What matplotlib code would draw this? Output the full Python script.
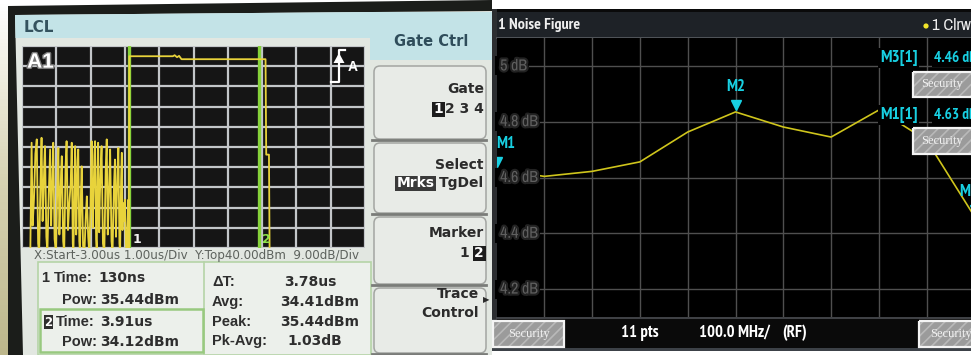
import matplotlib
matplotlib.use("Agg")
import matplotlib.pyplot as plt
import numpy as np
from matplotlib import font_manager
from matplotlib.font_manager import FontProperties
from matplotlib.patches import Rectangle, FancyBboxPatch, Polygon, Circle
from matplotlib.transforms import blended_transform_factory, offset_copy
import matplotlib.patheffects as pe

# ---------------- LCL: gated power-vs-time trace ----------------
lcl_x_start_us = -3.0
lcl_x_div_us = 1.0
lcl_y_top_dbm = 40.0
lcl_y_div_db = 9.0

lcl_time_us = [
    -3.00, -2.76, -2.72, -2.69, -2.65, -2.61, -2.57, -2.53, -2.50, -2.46,
    -2.43, -2.40, -2.38, -2.35, -2.33, -2.29, -2.26, -2.22, -2.18, -2.15,
    -2.13, -2.11, -2.09, -2.05, -2.01, -1.97, -1.94, -1.91, -1.89, -1.86,
    -1.84, -1.80, -1.77, -1.73, -1.70, -1.66, -1.62, -1.58, -1.55, -1.52,
    -1.50, -1.47, -1.45, -1.42, -1.40, -1.38, -1.36, -1.33, -1.31, -1.28,
    -1.26, -1.22, -1.18, -1.14, -1.11, -1.07, -1.04, -1.00, -0.97, -0.94,
    -0.92, -0.89, -0.87, -0.84, -0.82, -0.80, -0.78, -0.75, -0.73, -0.70,
    -0.68, -0.64, -0.60, -0.56, -0.53, -0.50, -0.48, -0.45, -0.43, -0.39,
    -0.36, -0.32, -0.29, -0.26, -0.24, -0.21, -0.19, -0.16, -0.14, -0.11,
    -0.09, -0.07, -0.05, -0.02, 0.00, 0.03, 0.05, 0.08, 0.10, 0.11,
    0.12, 0.13, 1.40, 1.45, 1.52, 1.58, 1.65, 4.10, 4.12, 4.20,
    4.22, 7.00,
]
lcl_power_dbm = [
    -55, -55, -3.1, -40, -28, -8.0, -1.6, -48, -52, -20,
    -0.9, -38, -30, -12, -4.6, -45, -52, -26, -6.1, -40,
    -27, -18, -3.1, -46, -52, -22, -5.4, -44, -34, -16,
    -9.1, -47, -52, -14, -2.4, -42, -30, -21, -3.1, -48,
    -52, -19, -4.6, -44, -28, -11, -6.1, -47, -52, -24,
    -13.6, -49, -52, -36, -27, -45, -52, -31, -2.4, -41,
    -30, -9.0, -2.4, -46, -52, -20, -3.1, -43, -27, -12,
    -4.6, -48, -52, -15, -1.6, -44, -34, -17, -6.1, -47,
    -52, -23, -10.6, -45, -30, -13, -5.4, -48, -52, -19,
    -7.6, -42, -30, -38, -28.5, -48, -52, -40, -28.5, -52,
    -12, 35.44, 35.44, 35.9, 35.0, 35.6, 34.12, 34.12, -8.4, -8.4,
    -55, -55,
]
lcl_marker_time_us = [0.13, 3.91]
lcl_marker_names = ["1", "2"]

# marker readout table
lcl_marker_time_txt = ["130ns", "3.91us"]
lcl_marker_pow_txt = ["35.44dBm", "34.12dBm"]
lcl_stat_names = ["\u0394T:", "Avg:", "Peak:", "Pk-Avg:"]
lcl_stat_values = ["3.78us", "34.41dBm", "35.44dBm", "1.03dB"]

# softkey menu
softkey_titles = ["Gate", "Select", "Marker", "Trace"]

# ---------------- Noise figure sweep ----------------
nf_freq_mhz = [0, 100, 200, 300, 400, 500, 600, 700, 800, 900, 1000]
nf_db = [4.63, 4.604, 4.622, 4.656, 4.763, 4.835, 4.781, 4.745, 4.842, 4.733, 4.46]
nf_marker_names = ["M1", "M2", "M3"]
nf_marker_index = [0, 5, 10]
nf_ytick_db = [4.2, 4.4, 4.6, 4.8, 5.0]
nf_ylim = (4.1, 5.1)

W, H, DPI = 971, 355, 100


def pick(cands):
    names = {f.name for f in font_manager.fontManager.ttflist}
    for c in cands:
        if c in names:
            return c
    return "DejaVu Sans"


def _weight(f):
    w = f.weight
    if isinstance(w, (int, float)):
        return int(w)
    w = str(w).lower()
    return 700 if "bold" in w else 400


def _is_condensed(f):
    nm = f.name.lower()
    st = f.stretch
    if "narrow" in nm or "condensed" in nm:
        return "semi" not in nm and "extra" not in nm
    if isinstance(st, str):
        return st == "condensed"
    if isinstance(st, (int, float)):
        return 250 <= st <= 350
    return False


def find_narrow():
    ranked = []
    for f in font_manager.fontManager.ttflist:
        if f.style != "normal" or not _is_condensed(f):
            continue
        nm = f.name.lower()
        if "narrow" in nm:
            r = 0
        elif "roboto" in nm:
            r = 1
        elif "noto sans" in nm:
            r = 2
        else:
            r = 3
        ranked.append((r, f))
    ranked.sort(key=lambda p: p[0])
    reg = bold = None
    for r, f in ranked:
        w = _weight(f)
        if bold is None and 600 <= w <= 800:
            bold = f.fname
        if reg is None and 350 <= w <= 500:
            reg = f.fname
    return reg, bold


NARROW_REG, NARROW_BOLD = find_narrow()
FALLBACK = pick(["Liberation Sans", "DejaVu Sans"])


def nfp(size, bold=False):
    path = NARROW_BOLD if bold else NARROW_REG
    if path is None:
        path = NARROW_REG or NARROW_BOLD
    if path is not None:
        return FontProperties(fname=path, size=size)
    return FontProperties(family=FALLBACK, size=size * 0.88, weight="bold" if bold else "normal")


SERIF = pick(["Liberation Serif", "DejaVu Serif"])
LCD = "DejaVu Sans"
ARIAL = pick(["Liberation Sans", "DejaVu Sans"])

fig = plt.figure(figsize=(W / DPI, H / DPI), dpi=DPI, facecolor="white")
renderer = fig.canvas.get_renderer()


def px_axes(x0, y0, x1, y1, label):
    return fig.add_axes([x0 / W, 1 - y1 / H, (x1 - x0) / W, (y1 - y0) / H], label=label)


def canvas(label):
    ax = fig.add_axes([0, 0, 1, 1], label=label)
    ax.set_xlim(0, W)
    ax.set_ylim(H, 0)
    ax.axis("off")
    ax.patch.set_alpha(0)
    return ax


bg = canvas("bg")

# ---- left instrument: bezel and panel ----
grad = np.linspace(0, 1, 100)[:, None]
bg.imshow(grad, extent=(0, 8.5, H, 0), cmap=matplotlib.colors.LinearSegmentedColormap.from_list(
    "bez", ["#ffffff", "#d8d4b4", "#bdb78c"]), aspect="auto", zorder=0)
bg.add_patch(Polygon([(8, 6), (492, 0), (492, 355), (8, 355)], closed=True, fc="#1b1d1a", ec="none", zorder=1))
bg.add_patch(Polygon([(15, 15), (492, 11), (492, 355), (23, 355)], closed=True, fc="#e2e7e1", ec="none", zorder=2))
bg.add_patch(Polygon([(15, 15), (370, 12), (370, 38), (15.5, 38)], closed=True, fc="#c3e3e7", ec="none", zorder=3))
bg.add_patch(Rectangle((370, 11.5), 122, 48.5, fc="#c3e3e7", ec="none", zorder=3))
bg.text(24, 28, "LCL", ha="left", va="center", fontsize=11, weight="bold", color="#34525e", family=LCD, zorder=4)
bg.text(431, 42, "Gate Ctrl", ha="center", va="center", fontsize=10.5, weight="bold", color="#2f4d5b", family=LCD, zorder=4)

# softkeys
key_boxes = [(66, 139), (143, 213), (217, 284), (288, 353)]
for (y0, y1) in key_boxes:
    bg.add_patch(FancyBboxPatch((374, y0), 112, y1 - y0, boxstyle="round,pad=0,rounding_size=6",
                                fc="#e8ebe7", ec="#a3a5a2", lw=1.1, zorder=3))
    bg.plot([372, 486], [y1 + 0.8, y1 + 0.8], color="#7a7c79", lw=2.0, zorder=4)

kw_key = dict(ha="right", va="center", fontsize=10, weight="bold", color="#2b2b2b", family=LCD, zorder=6)
bg.text(484, 89, softkey_titles[0], **kw_key)
bg.text(484, 165, softkey_titles[1], **kw_key)
bg.text(484, 233, softkey_titles[2], **kw_key)
bg.text(479, 294, softkey_titles[3], **kw_key)
bg.text(479, 313, "Control", **kw_key)
bg.text(486, 300, "\u25B6", ha="center", va="center", fontsize=6, color="#2b2b2b", zorder=6)


def inv_chip(x_right, y, s, fc, size=10):
    t = bg.text(x_right, y, s, ha="right", va="center", fontsize=size, weight="bold",
                color="white", family=LCD, zorder=7)
    w = t.get_window_extent(renderer).width
    bg.add_patch(Rectangle((x_right - w - 1.5, y - 7.5), w + 3, 15, fc=fc, ec="none", zorder=6))
    return x_right - w - 2.5


t = bg.text(484, 109, "2 3 4", **kw_key)
w = t.get_window_extent(renderer).width
inv_chip(484 - w - 2, 109, "1", "#1d1d1d")
t = bg.text(484, 183, "TgDel", **kw_key)
w = t.get_window_extent(renderer).width
inv_chip(484 - w - 4, 183, "Mrks", "#3a3a3a")
xl = inv_chip(484, 253, "2", "#1d1d1d")
bg.text(xl - 3, 253, "1", **kw_key)

# status line under the screen
bg.text(34, 255, "X:Start-3.00us 1.00us/Div  Y:Top40.00dBm  9.00dB/Div", ha="left", va="center",
        fontsize=8.6, color="#5d625d", family=LCD, zorder=4)

# readout table
bg.add_patch(Rectangle((38, 262), 333, 93, fc="#ecf0eb", ec="#b5d4a7", lw=1.2, zorder=3))
bg.plot([204, 204], [262, 355], color="#b5d4a7", lw=1.2, zorder=4)
bg.add_patch(Rectangle((40, 309), 163, 43, fc="none", ec="#98c97f", lw=1.8, zorder=4))
kw_val = dict(ha="left", va="center", fontsize=10, weight="bold", color="#2e2e2e", family=LCD, zorder=6)
kw_lab = dict(ha="left", va="center", fontsize=10.5, weight="bold", color="#2e2e2e", family=ARIAL, zorder=6)
bg.text(41, 278, "1", **kw_lab)
bg.text(54, 278, "Time:", **kw_lab)
bg.text(98, 278, lcl_marker_time_txt[0], **kw_val)
bg.text(62, 300, "Pow:", **kw_lab)
bg.text(100, 300, lcl_marker_pow_txt[0], **kw_val)
bg.add_patch(Rectangle((44, 315), 9, 14, fc="#2e2e2e", ec="none", zorder=5))
bg.text(48.5, 322, "2", ha="center", va="center", fontsize=8.5, weight="bold", color="white", family=LCD, zorder=6)
bg.text(56, 322, "Time:", **kw_lab)
bg.text(100, 322, lcl_marker_time_txt[1], **kw_val)
bg.text(62, 342, "Pow:", **kw_lab)
bg.text(100, 342, lcl_marker_pow_txt[1], **kw_val)
stat_y = [282, 302, 322, 341]
stat_x = [284, 280, 280, 287]
for name, val, y, xv in zip(lcl_stat_names, lcl_stat_values, stat_y, stat_x):
    bg.text(212, y, name, **kw_lab)
    bg.text(xv, y, val, **kw_val)

# ---- right instrument: frame ----
bg.add_patch(Rectangle((492, 9), 479, 342, fc="#0a0a0a", ec="none", zorder=1))
bg.add_patch(Rectangle((492, 9), 4.5, 342, fc="#2c2e31", ec="none", zorder=2))
bg.add_patch(Rectangle((496.5, 12), 475, 26, fc="#1e2227", ec="none", zorder=2))
bg.plot([496.5, 971], [38, 38], color="#5a5d62", lw=1.2, zorder=3)
bg.plot([496.5, 971], [317.5, 317.5], color="#4a4d52", lw=1.2, zorder=3)
bg.add_patch(Rectangle((492, 348), 479, 2.5, fc="#3c4147", ec="none", zorder=3))
bg.add_patch(Rectangle((492, 350.5), 479, 5, fc="white", ec="none", zorder=3))
bg.text(498, 25.5, "1 Noise Figure", ha="left", va="center", color="#eeeeee",
        fontproperties=nfp(11.5, bold=True), zorder=4)
bg.add_patch(Circle((926, 26), 2.6, fc="#f2e52a", ec="none", zorder=4))
bg.text(932, 26, "1 Clrw", ha="left", va="center", color="#eeeeee", fontproperties=nfp(12), zorder=4)

kw_bot = dict(ha="center", va="center", color="white", zorder=4)
bg.text(640, 333, "11 pts", fontproperties=nfp(12, True), **kw_bot)
bg.text(734, 333, "100.0 MHz/", fontproperties=nfp(12, True), **kw_bot)
bg.text(795, 333, "(RF)", fontproperties=nfp(12, True), **kw_bot)

# ---------------- LCL screen axes ----------------
ax1 = px_axes(22, 46, 365, 248, "lcl")
ax1.set_facecolor("#151515")
ax1.set_xlim(lcl_x_start_us, lcl_x_start_us + 10 * lcl_x_div_us)
ax1.set_ylim(lcl_y_top_dbm - 10 * lcl_y_div_db, lcl_y_top_dbm)
ax1.set_xticks(np.arange(lcl_x_start_us, lcl_x_start_us + 10.01 * lcl_x_div_us, lcl_x_div_us))
ax1.set_yticks(np.arange(lcl_y_top_dbm - 10 * lcl_y_div_db, lcl_y_top_dbm + 0.01, lcl_y_div_db))
ax1.tick_params(length=0, labelbottom=False, labelleft=False)
ax1.grid(True, color="#c3c6c9", lw=1.6)
for s in ax1.spines.values():
    s.set_visible(False)
for tm in lcl_marker_time_us:
    ax1.axvline(tm, color="#86d23a", lw=2.4, zorder=3)
ax1.plot(lcl_time_us, lcl_power_dbm, color="#e8d33b", lw=1.3, zorder=4)
ax1.text(lcl_marker_time_us[0] + 0.08, -46, lcl_marker_names[0], color="#f0f0f0", fontsize=9,
         weight="bold", family=LCD, ha="left", va="center", zorder=5)
ax1.text(lcl_marker_time_us[1] + 0.10, -46, lcl_marker_names[1], color="#8ee04a", fontsize=9,
         weight="bold", family=LCD, ha="left", va="center", zorder=5)
ax1.text(0.015, 0.92, "A1", transform=ax1.transAxes, color="white", fontsize=15, weight="bold",
         family=ARIAL, ha="left", va="center", zorder=6,
         path_effects=[pe.withStroke(linewidth=2, foreground="#7a7a7a")])
ax1.text(0.965, 0.895, "A", transform=ax1.transAxes, color="white", fontsize=10, weight="bold",
         family=ARIAL, ha="center", va="center", zorder=6)

# ---------------- Noise figure axes ----------------
x_right_mhz = 1000 * (971 - 496.5) / 478.0
ax2 = px_axes(496.5, 38, 971, 317, "nf")
ax2.set_facecolor("black")
ax2.set_xlim(0, x_right_mhz)
ax2.set_ylim(*nf_ylim)
ax2.set_xticks(nf_freq_mhz[1:10])
ax2.set_yticks(nf_ytick_db)
ax2.tick_params(length=0, labelbottom=False, labelleft=False)
ax2.grid(True, color="#4f4f4f", lw=1.0)
for s in ax2.spines.values():
    s.set_visible(False)
ax2.plot(nf_freq_mhz, nf_db, color="#cfc51c", lw=1.2, zorder=4)

ylab_tr = blended_transform_factory(ax2.transAxes, ax2.transData)
for v in nf_ytick_db:
    ax2.text(0.0, v, f" {v:g} dB", transform=ylab_tr, ha="left", va="center",
             color="#5f5f5f", fontproperties=nfp(11.5), zorder=5,
             bbox=dict(boxstyle="square,pad=0.12", fc="black", ec="none"),
             path_effects=[pe.withStroke(linewidth=3, foreground="#222222")])

CYAN = "#18d0e2"
tri_tr = offset_copy(ax2.transData, fig=fig, x=0, y=7, units="dots")
for name, idx in zip(nf_marker_names, nf_marker_index):
    xm, ym = nf_freq_mhz[idx], nf_db[idx]
    ax2.plot([xm], [ym], marker="v", ms=7, color=CYAN, mec=CYAN, transform=tri_tr, zorder=6, clip_on=True)
    if idx == 0:
        ha, dx = "left", 0
    elif idx == len(nf_freq_mhz) - 1:
        ha, dx = "center", -6
    else:
        ha, dx = "center", 0
    ax2.annotate(name, xy=(xm, ym), xytext=(dx, 25), textcoords="offset pixels", ha=ha, va="center",
                 color=CYAN, fontproperties=nfp(12, True), zorder=6, annotation_clip=False)

# marker readout rows
for name, idx, y in [("M3[1]", 10, 58), ("M1[1]", 0, 115)]:
    yv = nf_ylim[1] - (y - 38) / 279.0 * (nf_ylim[1] - nf_ylim[0])
    ax2.text(802, yv, name, ha="left", va="center", color=CYAN,
             fontproperties=nfp(12.5, True), zorder=7,
             bbox=dict(boxstyle="square,pad=0.1", fc="black", ec="none"))
    ax2.text(915, yv, f"{nf_db[idx]:.2f} dB", ha="left", va="center",
             color=CYAN, fontproperties=nfp(11, True), zorder=7,
             bbox=dict(boxstyle="square,pad=0.1", fc="black", ec="none"))

# ---------------- overlay: security blanks, trigger icon ----------------
ov = canvas("overlay")
plt.rcParams["hatch.linewidth"] = 1.2
for (x0, y0, x1, y1, tx) in [(913, 72, 980, 97, 942), (913, 128, 980, 154, 942),
                             (493, 321, 564, 347, 529), (919, 321, 980, 347, 951)]:
    ov.add_patch(Rectangle((x0, y0), x1 - x0, y1 - y0, fc="#9b9b9b", ec="#b9b9b9", hatch="///", lw=0, zorder=8))
    ov.add_patch(Rectangle((x0, y0), x1 - x0, y1 - y0, fc="none", ec="#f4f4f4", lw=1.6, zorder=9))
    ov.text(tx, (y0 + y1) / 2, "Security", ha="center", va="center", fontsize=9, color="#f2f2f2",
            family=SERIF, zorder=10)

ov.plot([331, 339, 339, 345], [82, 82, 50, 50], color="white", lw=1.6, zorder=8)
ov.add_patch(Polygon([(333.5, 63), (344.5, 63), (339, 53)], closed=True, fc="white", ec="none", zorder=8))

fig.savefig("out.png", dpi=DPI, facecolor="white")
